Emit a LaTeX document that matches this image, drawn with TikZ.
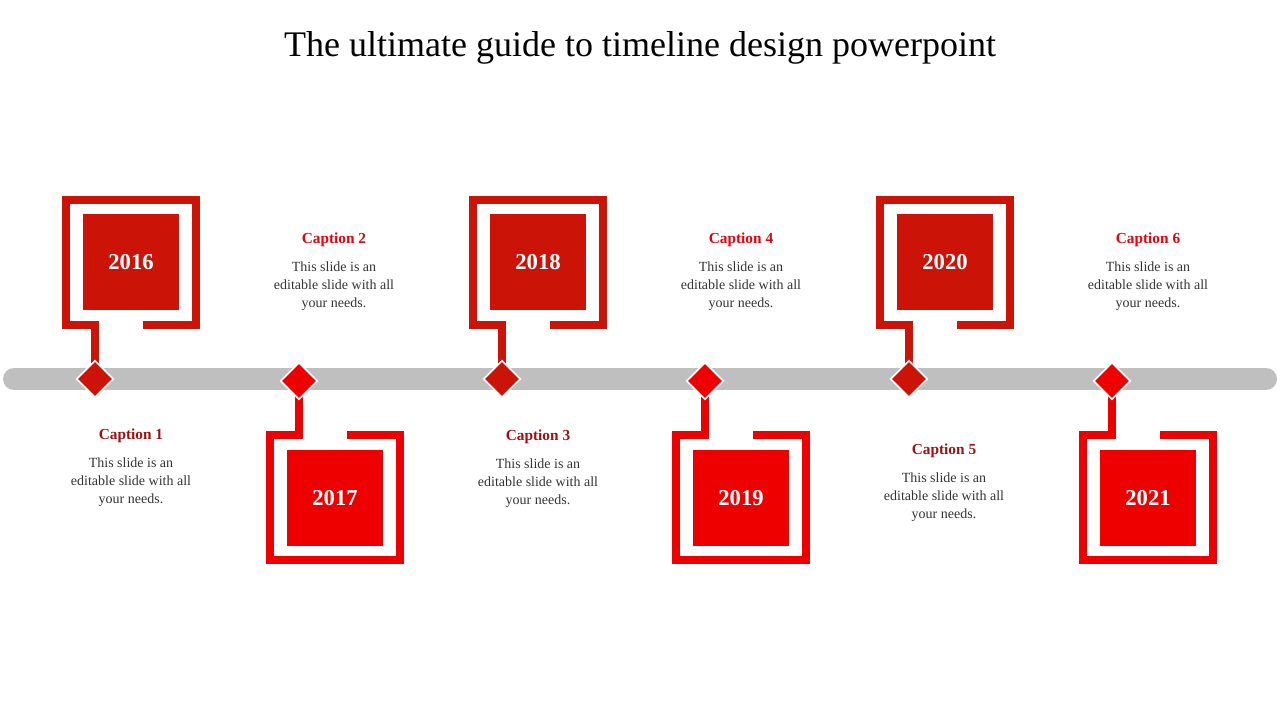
\documentclass[tikz,border=0pt]{standalone}
\usepackage{fontspec}
\setmainfont{Liberation Serif}
\usetikzlibrary{shapes.geometric}
\definecolor{dred}{HTML}{CC1308}
\definecolor{bred}{HTML}{EE0000}
\definecolor{cdark}{HTML}{A01010}
\definecolor{cbright}{HTML}{E8000A}
\definecolor{tgray}{HTML}{BFBFBF}
\begin{document}
\begin{tikzpicture}[x=0.75pt,y=-0.75pt,
  frame/.style={line width=6pt,line join=miter},
  yearbox/.style={minimum width=72pt,minimum height=72pt,inner sep=0pt,text=white,font=\fontsize{17}{17}\selectfont\bfseries},
  dia/.style={diamond,draw=white,line width=1.2pt,minimum width=28pt,minimum height=28pt,inner sep=0pt},
  captext/.style={font=\fontsize{11.5}{12}\selectfont\bfseries},
  body/.style={align=center,text=black!80,font=\fontsize{10.5}{13.5}\selectfont}]
\useasboundingbox (0,0) rectangle (1280,720);
\node (title) at (640,48) {\fontsize{27}{27}\selectfont The ultimate guide to timeline design powerpoint};
\draw[tgray,line width=16.5pt,line cap=round] (14,379) -- (1266,379);
\foreach \d/\yr/\col/\n in {95/2016/dred/a,502/2018/dred/c,909/2020/dred/e}{
  \coordinate (s\n) at (\d,325);
  \draw[\col,frame] (\d+48,325) -- (\d+101,325) -- (\d+101,200) -- (\d-29,200) -- (\d-29,325) -- (s\n) -- (\d,372);
  \node[yearbox,fill=\col] (y\n) at (\d+36,262) {\yr};
  \node[dia,fill=\col] (d\n) at (\d,379) {};
}
\foreach \d/\yr/\col/\n in {299/2017/bred/b,705/2019/bred/d,1112/2021/bred/f}{
  \coordinate (s\n) at (\d,435);
  \draw[\col,frame] (\d+48,435) -- (\d+101,435) -- (\d+101,560) -- (\d-29,560) -- (\d-29,435) -- (s\n) -- (\d,386);
  \node[yearbox,fill=\col] (y\n) at (\d+36,498) {\yr};
  \node[dia,fill=\col] (d\n) at (\d,381) {};
}
\foreach \x/\y/\c/\k in {131/436/cdark/1,334/240/cbright/2,538/437/cdark/3,741/240/cbright/4,944/451/cdark/5,1148/240/cbright/6}{
  \node[captext,text=\c] (c\k) at (\x,\y) {Caption \k};
  \node[body,anchor=north] (b\k) at (\x,\y+17) {This slide is an\\editable slide with all\\your needs.};
}
\end{tikzpicture}
\end{document}
